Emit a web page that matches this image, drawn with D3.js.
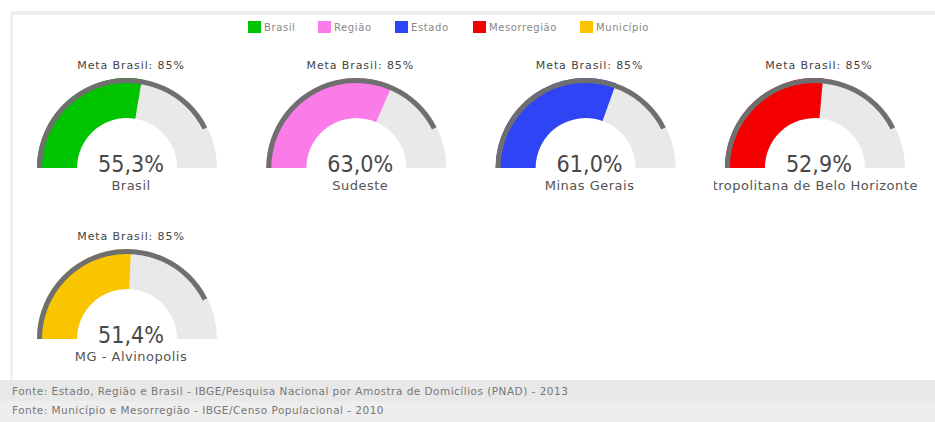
<!DOCTYPE html>
<html>
<head>
<meta charset="utf-8">
<script src="https://cdn.jsdelivr.net/npm/d3@7"></script>
<style>
  html, body { margin: 0; padding: 0; background: #fff; }
  svg { display: block; font-family: "DejaVu Sans", Verdana, sans-serif; }
</style>
</head>
<body>
<svg id="chart" width="935" height="422"></svg>
<script>
// Indicator per geographic level (percent)
const levels = ["Brasil", "Região", "Estado", "Mesorregião", "Município"];
const places = ["Brasil", "Sudeste", "Minas Gerais", "Região Metropolitana de Belo Horizonte", "MG - Alvinopolis"];
const values = [55.3, 63.0, 61.0, 52.9, 51.4];
const colors = ["#00c400", "#fb7be8", "#2f45f5", "#f40000", "#f8c500"];
const target = 85;
const targetLabel = "Meta Brasil: 85%";
const sources = [
  "Fonte: Estado, Região e Brasil - IBGE/Pesquisa Nacional por Amostra de Domicílios (PNAD) - 2013",
  "Fonte: Município e Mesorregião - IBGE/Censo Populacional - 2010"
];

const W = 935, H = 422;
const svg = d3.select("#chart");

// frame
svg.append("rect").attr("x", 10).attr("y", 11).attr("width", W - 10).attr("height", 4).attr("fill", "#eeeeee");
svg.append("rect").attr("x", 10).attr("y", 11).attr("width", 3).attr("height", 370).attr("fill", "#f0f0f0");

// legend
const legendX = d3.scaleOrdinal().domain(levels).range([248, 318, 395, 473, 580]);
const legend = svg.append("g").selectAll("g").data(levels).join("g")
  .attr("transform", d => `translate(${legendX(d)},21)`);
legend.append("rect").attr("width", 13).attr("height", 12)
  .attr("fill", (d, i) => colors[i]);
legend.append("text").attr("x", 16).attr("y", 10)
  .attr("font-size", 10).attr("letter-spacing", 0.6).attr("fill", "#888").text(d => d);

// gauges
const angle = d3.scaleLinear().domain([0, 100]).range([-Math.PI / 2, Math.PI / 2]);
const rOuter = 90, rInner = 50, band = 5;
const cols = 4;
const cx = i => 127 + (i % cols) * 229.3;
const cy = i => 168 + Math.floor(i / cols) * 171;

const arcFill = d3.arc().innerRadius(rInner).outerRadius(rOuter);
const arcBand = d3.arc().innerRadius(rOuter - band).outerRadius(rOuter);

const defs = svg.append("defs");

const g = svg.append("g").selectAll("g").data(values).join("g")
  .attr("transform", (d, i) => `translate(${cx(i)},${cy(i)})`);

g.each(function (d, i) {
  defs.append("clipPath").attr("id", "cell" + i)
    .append("rect").attr("x", cx(i) - 101).attr("y", cy(i) - 120)
    .attr("width", 212).attr("height", 150);
});

g.append("path").attr("fill", "#e9e9e9")
  .attr("d", arcFill({ startAngle: angle(0), endAngle: angle(100) }));
g.append("path").attr("fill", (d, i) => colors[i])
  .attr("d", d => arcFill({ startAngle: angle(0), endAngle: angle(d) }));
g.append("path").attr("fill", "#6f6f6f")
  .attr("d", arcBand({ startAngle: angle(0), endAngle: angle(target) }));

g.append("text").attr("text-anchor", "middle").attr("y", -99).attr("x", 4)
  .attr("font-size", 11).attr("letter-spacing", 0.9).attr("fill", "#444").text(targetLabel);

g.append("text").attr("text-anchor", "middle").attr("y", 4).attr("x", 4)
  .attr("font-size", 23).attr("fill", "#484848")
  .attr("textLength", 66).attr("lengthAdjust", "spacingAndGlyphs")
  .text(d => d.toFixed(1).replace(".", ",") + "%");

svg.append("g").selectAll("text").data(places).join("text")
  .attr("clip-path", (d, i) => `url(#cell${i})`)
  .attr("x", (d, i) => cx(i) + 4)
  .attr("y", (d, i) => cy(i) + 22)
  .attr("text-anchor", "middle")
  .attr("font-size", 13).attr("letter-spacing", 0.5).attr("fill", "#555")
  .text(d => d)
  .each(function (d, i) {
    const w = this.getComputedTextLength();
    if (w > 210) {
      // long labels keep their end visible and are cut at the cell edge
      d3.select(this).attr("text-anchor", "end").attr("x", cx(i) + 103);
    }
  });

// sources footer
svg.append("rect").attr("x", 0).attr("y", 380).attr("width", W).attr("height", 21).attr("fill", "#e8e8e8");
svg.append("rect").attr("x", 0).attr("y", 401).attr("width", W).attr("height", 21).attr("fill", "#eeeeee");
svg.append("g").selectAll("text").data(sources).join("text")
  .attr("x", 12).attr("y", (d, i) => 395 + i * 19)
  .attr("font-size", 10.5).attr("letter-spacing", 0.48).attr("fill", "#777").text(d => d);
</script>
</body>
</html>
